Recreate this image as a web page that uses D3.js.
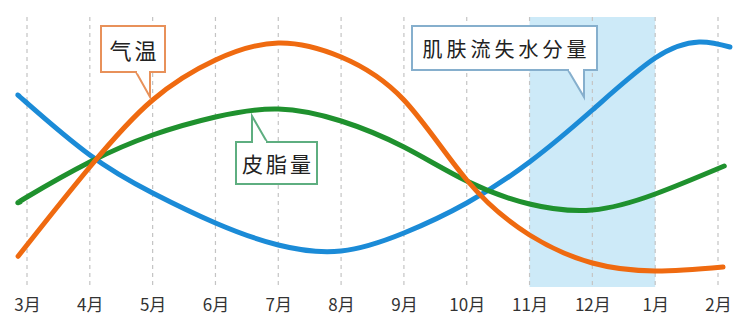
<!DOCTYPE html>
<html>
<head>
<meta charset="utf-8">
<script src="https://cdn.jsdelivr.net/npm/d3@7"></script>
<style>
  body { margin: 0; background: #fff; }
  svg { display: block; }
</style>
</head>
<body>
<div id="chart"></div>
<script>
const width = 750;
const height = 323;

const months = ["3月", "4月", "5月", "6月", "7月", "8月", "9月", "10月", "11月", "12月", "1月", "2月"];

// month position (0 = 3月) and relative level
const waterPos = [-0.11, 0, 1, 2, 3, 4, 5, 6, 7, 8, 9, 10, 10.7, 11.19];
const waterLoss = [190, 184, 132, 94, 64, 42, 36, 54, 84, 125, 177, 229, 245, 240];
const tempPos = [-0.1, 0, 1, 2, 3, 4, 5, 6, 7, 8, 9, 10, 11.08];
const temperature = [34, 42, 120, 187, 227, 244, 230, 187, 107, 52, 24, 16, 20];
const sebumPos = [-0.11, 0, 1, 2, 3, 4, 5, 6, 7, 8, 9, 10, 11.1];
const sebum = [85, 90, 125, 152, 170, 178, 166, 140, 106, 83, 77, 93, 121];

const highlight = [8, 10]; // 11月 .. 1月

const x = d3.scaleLinear().domain([0, 11]).range([27, 718]);
const y = d3.scaleLinear().domain([0, 270]).range([287, 17]);

const svg = d3
  .select("#chart")
  .append("svg")
  .attr("width", width)
  .attr("height", height);

svg
  .append("rect")
  .attr("x", x(highlight[0]))
  .attr("y", y(270))
  .attr("width", x(highlight[1]) - x(highlight[0]))
  .attr("height", y(0) - y(270))
  .attr("fill", "#cdeaf8");

svg
  .selectAll("line.grid")
  .data(months)
  .join("line")
  .attr("class", "grid")
  .attr("x1", (d, i) => x(i))
  .attr("x2", (d, i) => x(i))
  .attr("y1", y(270))
  .attr("y2", y(0))
  .attr("stroke", "#c4c4c4")
  .attr("stroke-width", 1.2)
  .attr("stroke-dasharray", "4,4");

svg
  .append("g")
  .attr("transform", `translate(0,${y(0)})`)
  .call(d3.axisBottom(x).tickValues(d3.range(12)).tickFormat((i) => months[i]).tickSize(0))
  .call((g) => g.select(".domain").remove())
  .selectAll("text")
  .attr("y", 24)
  .attr("dy", 0)
  .attr("fill", "#333")
  .style("font-family", "'Noto Sans CJK JP', sans-serif")
  .style("font-size", "17px");

const series = [
  { pos: waterPos, vals: waterLoss, color: "#1b8bd7" },
  { pos: sebumPos, vals: sebum, color: "#1f912e" },
  { pos: tempPos, vals: temperature, color: "#ef6a10" },
];

const line = d3
  .line()
  .x((d) => x(d[0]))
  .y((d) => y(d[1]))
  .curve(d3.curveNatural);

series.forEach((s) => {
  svg
    .append("path")
    .attr("d", line(s.pos.map((p, i) => [p, s.vals[i]])))
    .attr("fill", "none")
    .attr("stroke", s.color)
    .attr("stroke-width", 5)
    .attr("stroke-linecap", "round");
});

// callouts: box + tail
function callout(box, tail, color, label, fontSize, spacing) {
  const [x0, y0, x1, y1] = box;
  const g = svg.append("g");
  g.append("rect")
    .attr("x", x0)
    .attr("y", y0)
    .attr("width", x1 - x0)
    .attr("height", y1 - y0)
    .attr("fill", "#fff")
    .attr("stroke", color)
    .attr("stroke-width", 2);
  g.append("path")
    .attr("d", d3.line()(tail))
    .attr("fill", "#fff")
    .attr("stroke", color)
    .attr("stroke-width", 2);
  // hide the box edge under the tail base
  g.append("line")
    .attr("x1", tail[0][0] + 1)
    .attr("x2", tail[2][0] - 1)
    .attr("y1", tail[0][1])
    .attr("y2", tail[2][1])
    .attr("stroke", "#fff")
    .attr("stroke-width", 2.5);
  g.append("text")
    .attr("x", (x0 + x1) / 2)
    .attr("y", (y0 + y1) / 2)
    .attr("text-anchor", "middle")
    .attr("dominant-baseline", "central")
    .attr("fill", "#222")
    .style("font-family", "'Noto Sans CJK JP', sans-serif")
    .style("font-size", fontSize + "px")
    .style("letter-spacing", spacing + "px")
    .attr("dx", spacing / 2)
    .text(label);
}

callout([101, 26, 165, 72], [[136, 72], [150, 97], [150, 72]], "#e8915a", "气温", 22, 3);
callout([236, 142, 317, 184], [[252, 142], [252, 116], [267, 142]], "#5eae80", "皮脂量", 21, 3);
callout([412, 26, 597, 70], [[568, 70], [584, 97], [584, 70]], "#86afcd", "肌肤流失水分量", 20, 4);
</script>
</body>
</html>
